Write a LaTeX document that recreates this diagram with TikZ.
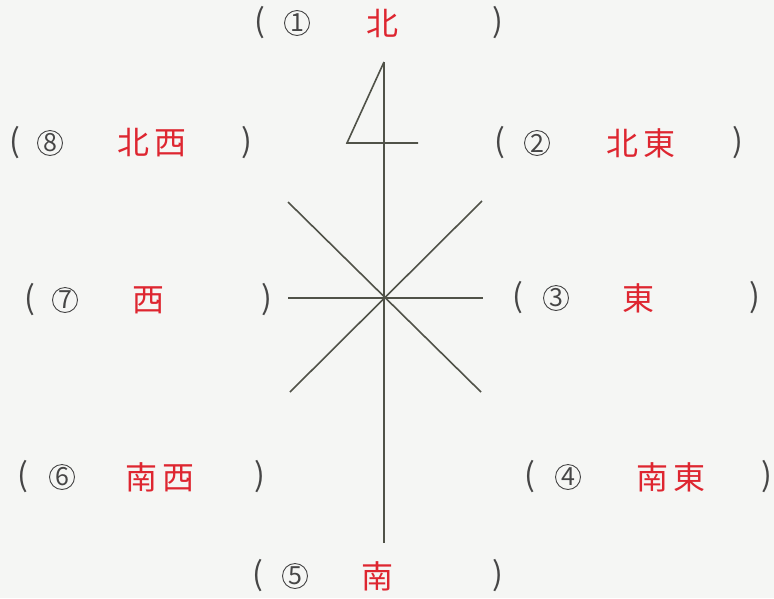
\documentclass[tikz,border=0pt]{standalone}
\usepackage{fontspec}
\newfontfamily\cjk{Noto Sans CJK JP}
\definecolor{ans}{RGB}{222,38,48}
\definecolor{ln}{RGB}{80,82,72}
\definecolor{bg}{RGB}{245,246,244}
\definecolor{tx}{RGB}{70,70,70}
\begin{document}
\begin{tikzpicture}[x=1pt,y=-1pt,
  lbl/.style={inner sep=0pt,font=\cjk\fontsize{32}{32}\selectfont,text=tx},
  num/.style={circle,draw=tx,line width=0.9pt,minimum size=25pt,inner sep=0pt,font=\cjk\fontsize{25}{25}\selectfont,text=tx},
  ansr/.style={inner sep=0pt,font=\cjk\fontsize{32}{32}\selectfont,text=ans},
  axis/.style={draw=ln,line width=1.6pt}]
\fill[bg] (0,0) rectangle (774,598);
\useasboundingbox (0,0) rectangle (774,598);
% compass
\coordinate (c) at (384,297);
\coordinate (top) at (384,62);
\coordinate (bot) at (384,543);
\coordinate (w) at (288,298);
\coordinate (e) at (483,298);
\coordinate (nw) at (288,202);
\coordinate (ne) at (482,201);
\coordinate (sw) at (290,392);
\coordinate (se) at (481,392);
\coordinate (fl) at (347,143);
\coordinate (fr) at (418,143);
\draw[axis] (top) -- (bot);
\draw[axis] (w) -- (e);
\draw[axis] (nw) -- (se);
\draw[axis] (ne) -- (sw);
\draw[axis,line join=miter] (top) -- (fl) -- (fr);
% row 1
\node[lbl] (p1l) at (260,23) {(};
\node[num] (n1) at (297,23) {1};
\node[ansr] (a1) at (382,23) {北};
\node[lbl] (p1r) at (498,23) {)};
% row 2
\node[lbl] (p8l) at (15,143) {(};
\node[num] (n8) at (50,143) {8};
\node[ansr] (a8) at (152,143) {北\hspace{6pt}西};
\node[lbl] (p8r) at (247,143) {)};
\node[lbl] (p2l) at (500,143) {(};
\node[num] (n2) at (537,143) {2};
\node[ansr] (a2) at (641,143) {北\hspace{6pt}東};
\node[lbl] (p2r) at (738,143) {)};
% row 3
\node[lbl] (p7l) at (30,300) {(};
\node[num] (n7) at (65,300) {7};
\node[ansr] (a7) at (148,300) {西};
\node[lbl] (p7r) at (267,300) {)};
\node[lbl] (p3l) at (518,298) {(};
\node[num] (n3) at (556,298) {3};
\node[ansr] (a3) at (638,298) {東};
\node[lbl] (p3r) at (755,298) {)};
% row 4
\node[lbl] (p6l) at (23,477) {(};
\node[num] (n6) at (62,477) {6};
\node[ansr] (a6) at (160,477) {南\hspace{6pt}西};
\node[lbl] (p6r) at (260,477) {)};
\node[lbl] (p4l) at (530,477) {(};
\node[num] (n4) at (568,477) {4};
\node[ansr] (a4) at (671,477) {南\hspace{6pt}東};
\node[lbl] (p4r) at (767,477) {)};
% row 5
\node[lbl] (p5l) at (258,576) {(};
\node[num] (n5) at (295,576) {5};
\node[ansr] (a5) at (377,576) {南};
\node[lbl] (p5r) at (498,576) {)};
\end{tikzpicture}
\end{document}
